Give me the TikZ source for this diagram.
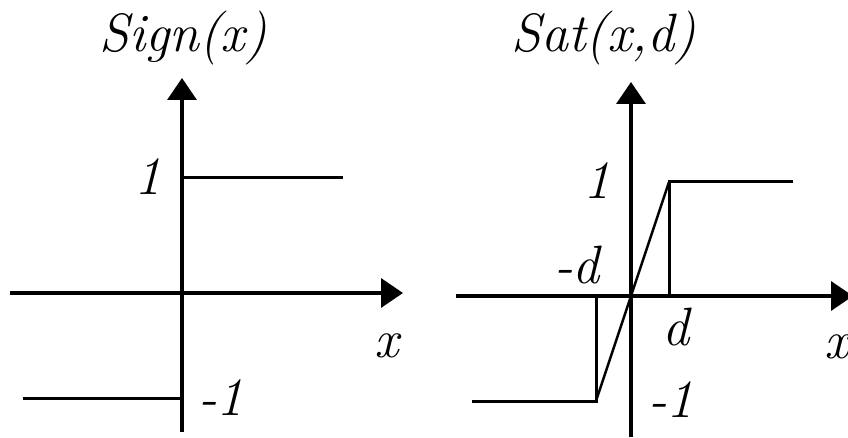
\documentclass[tikz,border=0pt]{standalone}
\usetikzlibrary{arrows.meta}

\begin{document}
\begin{tikzpicture}[
    x=1pt, y=1pt,
    axis/.style={line width=3.5pt, -{Triangle[length=22pt, width=29pt]}},
    curve/.style={line width=3pt},
    ramp/.style={line width=2.5pt},
    lbl/.style={font=\fontsize{54}{60}\selectfont\itshape, inner sep=0pt, anchor=base},
]
\clip (0,0) rectangle (848,437);

% Sign(x) plot
\coordinate (sl) at (10,144);
\coordinate (sr) at (403,144);
\coordinate (sb) at (182,5);
\coordinate (st) at (182,359);
\coordinate (sp1) at (182,259);
\coordinate (sp2) at (343,259);
\coordinate (sm1) at (23,39);
\coordinate (sm2) at (182,39);
\draw[axis] (sl) -- (sr);
\draw[axis] (sb) -- (st);
\draw[curve] (sp1) -- (sp2);
\draw[curve] (sm1) -- (sm2);
\node[lbl] (sign) at (183,385) {Sign(x)};
\node[lbl] (sone) at (148,242) {1};
\node[lbl] (smone) at (221,22) {-1};
\node[lbl] (sx) at (387,80) {x};

% Sat(x,d) plot
\coordinate (tl) at (456,141);
\coordinate (tr) at (853,141);
\coordinate (tb) at (631,0);
\coordinate (tt) at (631,355);
\coordinate (tp1) at (669,255);
\coordinate (tp2) at (793,255);
\coordinate (tp0) at (669,141);
\coordinate (tm1) at (472,36);
\coordinate (tm2) at (596,36);
\coordinate (tm0) at (596,141);
\draw[axis] (tl) -- (tr);
\draw[axis] (tb) -- (tt);
\draw[curve] (tp0) -- (tp1) -- (tp2);
\draw[curve] (tm0) -- (tm2) -- (tm1);
\draw[ramp] (tm2) -- (tp1);
\node[lbl] (sat) at (604,385) {Sat(x,d)};
\node[lbl] (tone) at (597,238) {1};
\node[lbl] (tmd) at (577,154) {-d};
\node[lbl] (td) at (676,92) {d};
\node[lbl] (tmone) at (671,20) {-1};
\node[lbl] (tx) at (837,79) {x};

\end{tikzpicture}
\end{document}
